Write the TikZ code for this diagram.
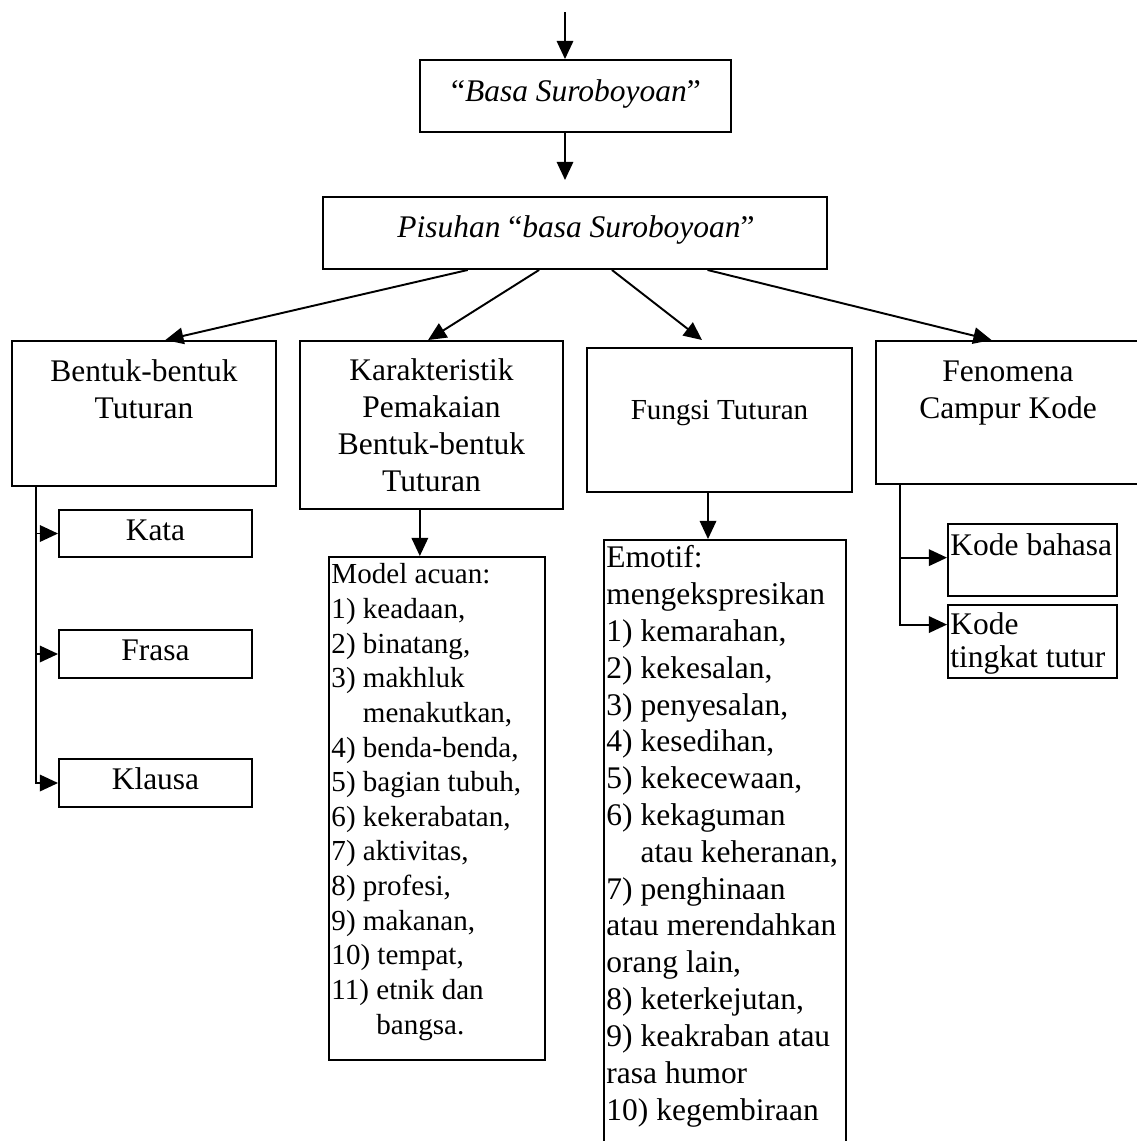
\documentclass[tikz,border=0pt]{standalone}
\usepackage{fontspec}
\setmainfont{Liberation Serif}
\usetikzlibrary{arrows.meta,calc,fit}

\tikzset{
	kotak/.style={draw, line width=0.8pt, inner sep=0pt},
	judul/.style={inner sep=0pt, align=center, anchor=base, font=\fontsize{13}{15.2}\selectfont},
	daftar/.style={inner sep=0pt, align=left, anchor=base west},
	panah/.style={line width=0.8pt, -{Triangle[length=7.5pt,width=6.8pt]}}
}

\begin{document}
\begin{tikzpicture}[x=0.413pt, y=-0.413pt]
	\useasboundingbox (0,0) rectangle (1137,1141);
	\clip (0,0) rectangle (1137,1141);

	\node [kotak, fit={(420,60) (731,132)}] (basa) {};
	\node [kotak, fit={(323,197) (827,269)}] (pisuhan) {};
	\node [kotak, fit={(12,341) (276,486)}] (bentuk) {};
	\node [kotak, fit={(300,341) (563,509)}] (karakter) {};
	\node [kotak, fit={(587,348) (852,492)}] (fungsi) {};
	\node [kotak, fit={(876,341) (1140,484)}] (fenomena) {};

	\node [kotak, fit={(59,510) (252,557)}] (kata) {};
	\node [kotak, fit={(59,630) (252,678)}] (frasa) {};
	\node [kotak, fit={(59,759) (252,807)}] (klausa) {};
	\node [kotak, fit={(329,557) (545,1060)}] (model) {};
	\node [kotak, fit={(604,540) (846,1170)}] (emotif) {};
	\node [kotak, fit={(948,524) (1117,596)}] (kodebahasa) {};
	\node [kotak, fit={(948,605) (1117,678)}] (kodetingkat) {};

	% anchor base = baris terakhir
	\node [judul] (basa-t) at (576,101) {“\textit{Basa Suroboyoan}”};
	\node [judul] (pisuhan-t) at (576,237) {\textit{Pisuhan} “\textit{basa Suroboyoan}”};
	\node [judul] (bentuk-t) at (144,418) {Bentuk-bentuk\\Tuturan};
	\node [judul] (karakter-t) at (431.5,491) {Karakteristik\\Pemakaian\\Bentuk-bentuk\\Tuturan};
	\node [judul, font=\fontsize{12}{14}\selectfont] (fungsi-t) at (719.5,419) {Fungsi Tuturan};
	\node [judul] (fenomena-t) at (1008,418) {Fenomena\\Campur Kode};
	\node [judul] (kata-t) at (155.5,540) {Kata};
	\node [judul] (frasa-t) at (155.5,660) {Frasa};
	\node [judul] (klausa-t) at (155.5,789) {Klausa};

	\node [daftar, font=\fontsize{12}{14.3}\selectfont] (model-t) at (331,1034) {Model acuan:\\
		1) keadaan,\\
		2) binatang,\\
		3) makhluk\\
		\phantom{3) }menakutkan,\\
		4) benda-benda,\\
		5) bagian tubuh,\\
		6) kekerabatan,\\
		7) aktivitas,\\
		8) profesi,\\
		9) makanan,\\
		10) tempat,\\
		11) etnik dan\\
		\phantom{11) }bangsa.};
	\node [daftar, font=\fontsize{13}{15.2}\selectfont] (emotif-t) at (606,1120) {Emotif:\\
		mengekspresikan\\
		1) kemarahan,\\
		2) kekesalan,\\
		3) penyesalan,\\
		4) kesedihan,\\
		5) kekecewaan,\\
		6) kekaguman\\
		\phantom{6) }atau keheranan,\\
		7) penghinaan\\
		atau merendahkan\\
		orang lain,\\
		8) keterkejutan,\\
		9) keakraban atau\\
		rasa humor\\
		10) kegembiraan};
	\node [daftar, font=\fontsize{13}{13.6}\selectfont] (kodebahasa-t) at (950,555) {Kode bahasa};
	\node [daftar, font=\fontsize{13}{13.6}\selectfont] (kodetingkat-t) at (950,667) {Kode\\tingkat tutur};

	\coordinate (awal) at (565,12);
	\coordinate (ujung) at (565,180);
	\draw [panah] (awal) -- (awal |- basa.north);
	\draw [panah] (awal |- basa.south) -- (ujung);

	\coordinate (ujung-fungsi) at (702,340);
	\draw [panah] ($(pisuhan.south west)!.288!(pisuhan.south east)$) -- ($(bentuk.north west)!.58!(bentuk.north east)$);
	\draw [panah] ($(pisuhan.south west)!.429!(pisuhan.south east)$) -- ($(karakter.north west)!.487!(karakter.north east)$);
	\draw [panah] ($(pisuhan.south west)!.573!(pisuhan.south east)$) -- (ujung-fungsi);
	\draw [panah] ($(pisuhan.south west)!.762!(pisuhan.south east)$) -- ($(fenomena.north west)!.438!(fenomena.north east)$);

	\coordinate (cabang) at (36,0);
	\draw [panah] (cabang |- bentuk.south) |- (klausa.west);
	\draw [panah] (cabang |- kata.west) -- (kata.west);
	\draw [panah] (cabang |- frasa.west) -- (frasa.west);

	\coordinate (k1) at ($(karakter.south west)!.456!(karakter.south east)$);
	\draw [panah] (k1) -- (k1 |- model.north);
	\coordinate (f1) at ($(fungsi.south west)!.457!(fungsi.south east)$);
	\draw [panah] (f1) -- (f1 |- emotif.north);

	\coordinate (cabang2) at (900,0);
	\coordinate (k-bahasa) at ($(kodebahasa.north west)!.468!(kodebahasa.south west)$);
	\coordinate (k-tingkat) at ($(kodetingkat.north west)!.274!(kodetingkat.south west)$);
	\draw [panah] (cabang2 |- fenomena.south) |- (k-tingkat);
	\draw [panah] (cabang2 |- k-bahasa) -- (k-bahasa);
\end{tikzpicture}
\end{document}
